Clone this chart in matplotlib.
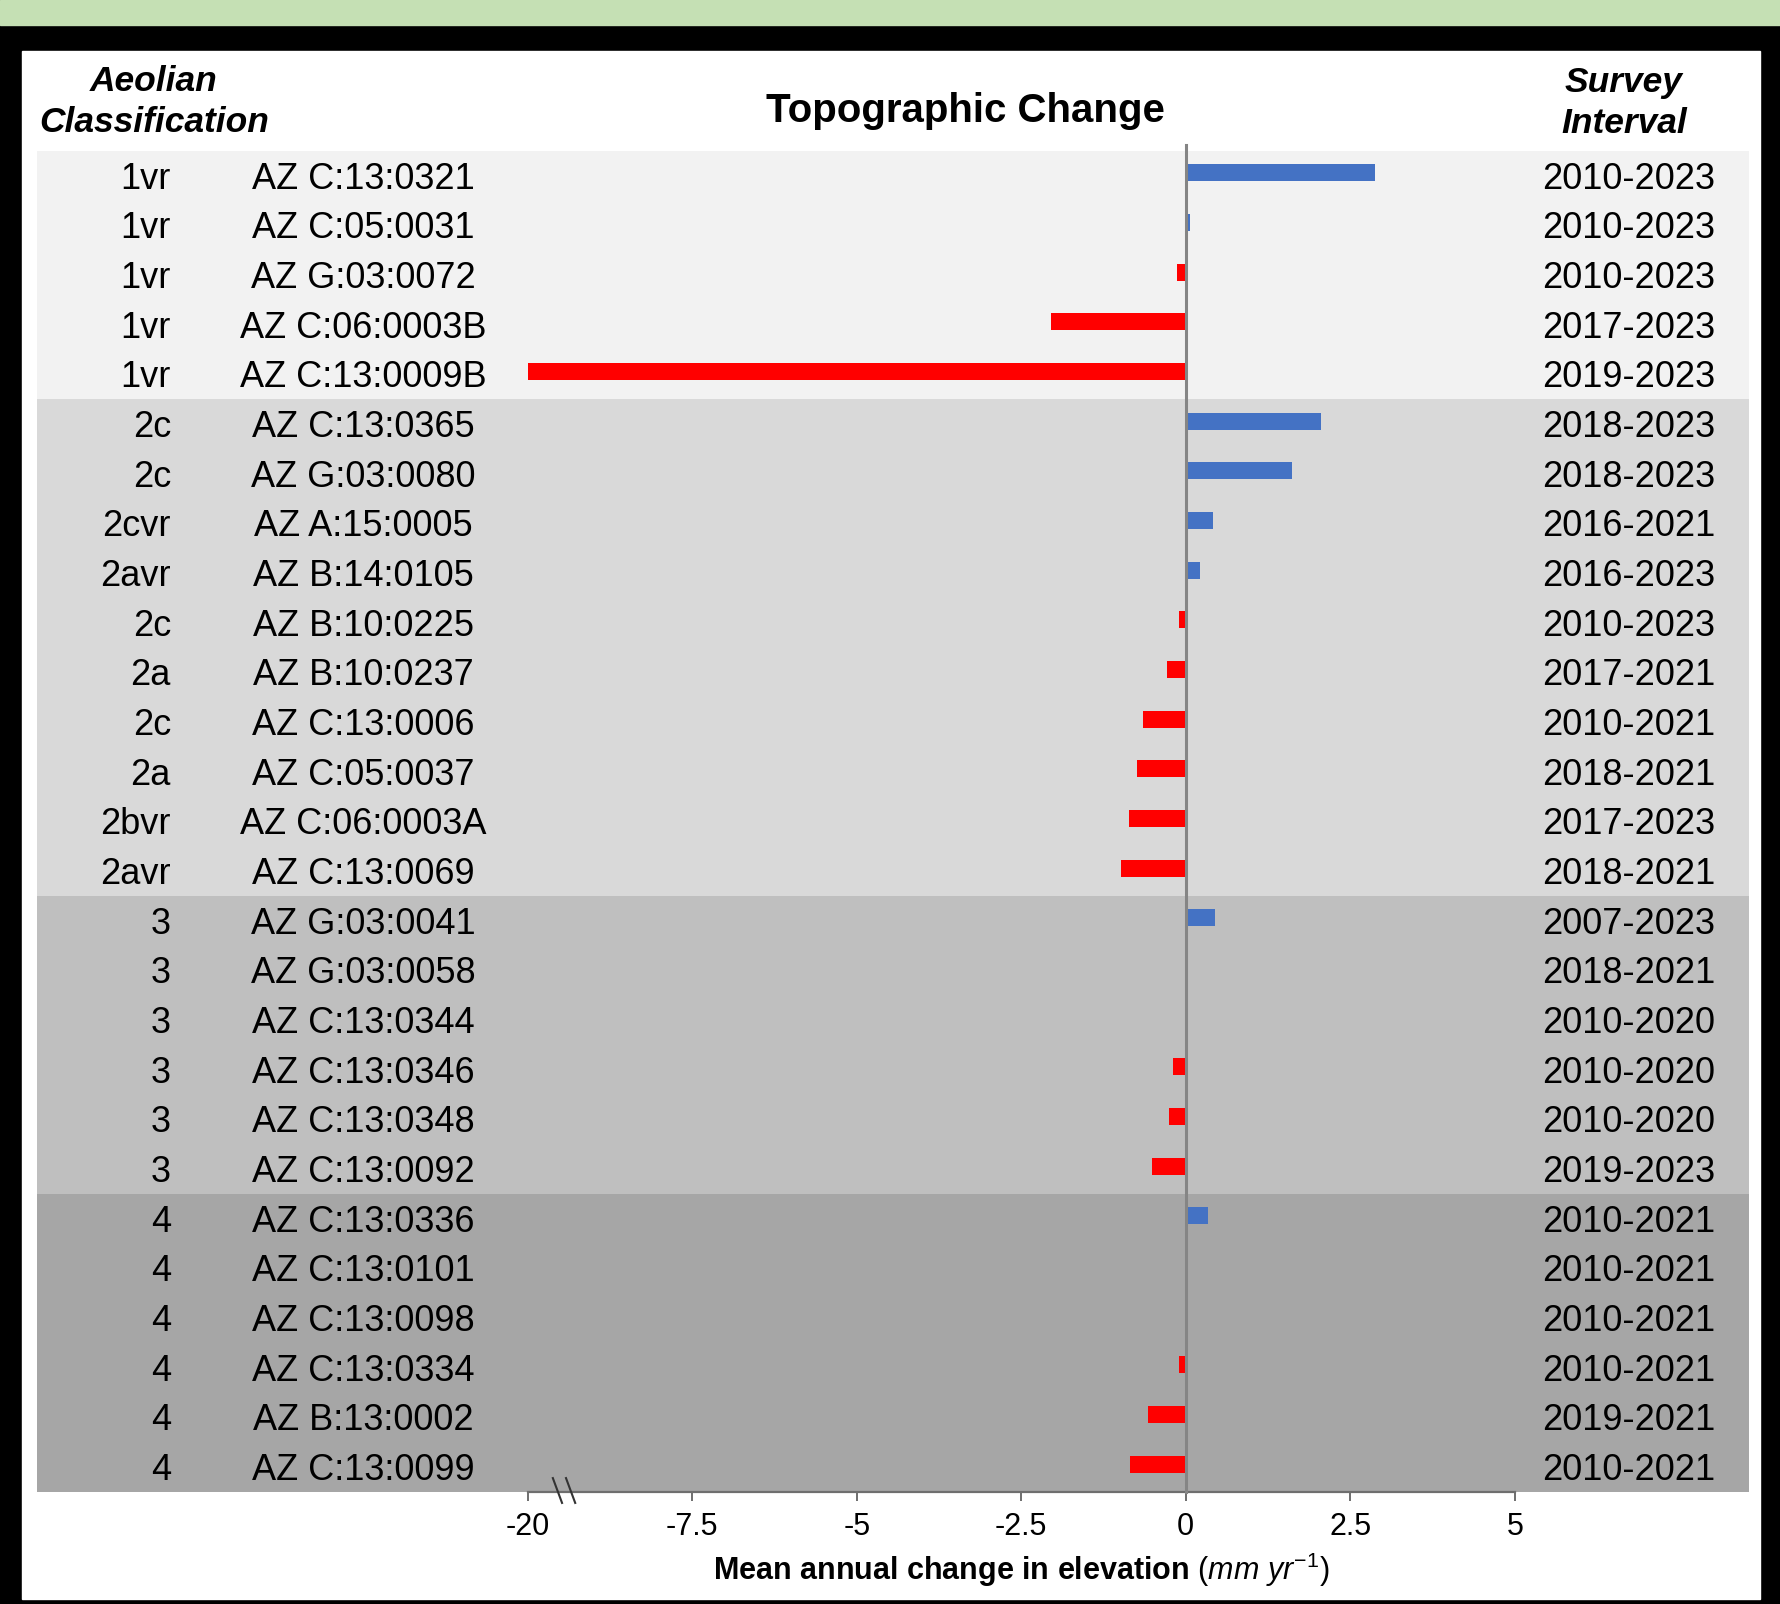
import numpy as np
import matplotlib
matplotlib.use("Agg")
import matplotlib.pyplot as plt
from matplotlib.patches import Rectangle
from matplotlib.transforms import blended_transform_factory

plt.rcParams['font.family'] = ['Liberation Sans', 'DejaVu Sans']
plt.rcParams['mathtext.fontset'] = 'custom'
plt.rcParams['mathtext.rm'] = 'Liberation Sans'
plt.rcParams['mathtext.it'] = 'Liberation Sans:italic'
plt.rcParams['mathtext.bf'] = 'Liberation Sans:bold'

# data (top row first)
classes = ["1vr", "1vr", "1vr", "1vr", "1vr",
           "2c", "2c", "2cvr", "2avr", "2c", "2a", "2c", "2a", "2bvr", "2avr",
           "3", "3", "3", "3", "3", "3",
           "4", "4", "4", "4", "4", "4"]
sites = ["AZ C:13:0321", "AZ C:05:0031", "AZ G:03:0072", "AZ C:06:0003B", "AZ C:13:0009B",
         "AZ C:13:0365", "AZ G:03:0080", "AZ A:15:0005", "AZ B:14:0105", "AZ B:10:0225",
         "AZ B:10:0237", "AZ C:13:0006", "AZ C:05:0037", "AZ C:06:0003A", "AZ C:13:0069",
         "AZ G:03:0041", "AZ G:03:0058", "AZ C:13:0344", "AZ C:13:0346", "AZ C:13:0348",
         "AZ C:13:0092",
         "AZ C:13:0336", "AZ C:13:0101", "AZ C:13:0098", "AZ C:13:0334", "AZ B:13:0002",
         "AZ C:13:0099"]
intervals = ["2010-2023", "2010-2023", "2010-2023", "2017-2023", "2019-2023",
             "2018-2023", "2018-2023", "2016-2021", "2016-2023", "2010-2023",
             "2017-2021", "2010-2021", "2018-2021", "2017-2023", "2018-2021",
             "2007-2023", "2018-2021", "2010-2020", "2010-2020", "2010-2020",
             "2019-2023",
             "2010-2021", "2010-2021", "2010-2021", "2010-2021", "2019-2021",
             "2010-2021"]
change = [2.87, 0.06, -0.13, -2.05, -20.0,
          2.05, 1.61, 0.41, 0.21, -0.11, -0.29, -0.65, -0.74, -0.87, -0.99,
          0.45, 0.0, 0.0, -0.19, -0.26, -0.52,
          0.33, 0.0, 0.0, -0.11, -0.58, -0.85]
group_sizes = [5, 10, 6, 6]
group_colors = ["#f2f2f2", "#d9d9d9", "#bfbfbf", "#a6a6a6"]
tick_values = [-20, -7.5, -5, -2.5, 0, 2.5, 5]
tick_labels = ["-20", "-7.5", "-5", "-2.5", "0", "2.5", "5"]


def squash(v):
    # broken axis: everything below -7.5 is compressed 5x
    v = np.asarray(v, dtype=float)
    return np.where(v < -7.5, -7.5 + (v + 7.5) * 0.2, v)


W, H = 1781, 1604
fig = plt.figure(figsize=(W / 100, H / 100), dpi=100, facecolor="black")

# background: green strip, black frame, white panel
fig.patches.append(Rectangle((0, 1 - 25 / H), 1, 25 / H, transform=fig.transFigure,
                             color="#c5e0b4", zorder=-5))
fig.patches.append(Rectangle((22 / W, (H - 1599) / H), (1760 - 22) / W, (1599 - 51) / H,
                             transform=fig.transFigure, color="white", zorder=-4))

ax = fig.add_axes([37 / W, (H - 1492) / H, (1749 - 37) / W, (1492 - 151) / H])
ax.set_facecolor("none")

n = len(sites)
y = np.arange(n)
ax.set_ylim(n - 0.5, -0.5)
ax.set_xlim(-17.46, 8.56)

start = 0
for size, col in zip(group_sizes, group_colors):
    ax.axhspan(start - 0.5, start + size - 0.5, color=col, lw=0, zorder=0)
    start += size

vals = np.array(change)
bar_cols = ["#4472c4" if v > 0 else "#ff0000" for v in vals]
ax.barh(y - 0.06, squash(vals), height=0.34, color=bar_cols, zorder=2)

ax.plot([0, 0], [-0.62, n - 0.5], color="#858585", lw=2.2, zorder=3, clip_on=False)

for s in ["top", "right", "left"]:
    ax.spines[s].set_visible(False)
ax.spines["bottom"].set_bounds(-10, 5)
ax.spines["bottom"].set_color("#6e6e6e")
ax.spines["bottom"].set_linewidth(1.6)
ax.set_yticks([])
ax.set_xticks(squash(tick_values), tick_labels)
ax.tick_params(axis="x", direction="out", length=6.5, width=1.4, color="#6e6e6e",
               labelsize=22, pad=8)

# axis break marks
for x0 in [-9.62, -9.42]:
    ax.plot([x0, x0 + 0.14], [26.22, 26.72], color="#333333", lw=1.5, clip_on=False, zorder=4)

# row labels
tr = blended_transform_factory(fig.transFigure, ax.transData)
for i in range(n):
    ty = i + 0.07
    ax.text(171 / W, ty, classes[i], transform=tr, ha="right", va="center", fontsize=26)
    ax.text(363.5 / W, ty, sites[i], transform=tr, ha="center", va="center", fontsize=26)
    ax.text(1629 / W, ty, intervals[i], transform=tr, ha="center", va="center", fontsize=26)

fig.text(965 / W, 1 - 111 / H, "Topographic Change", ha="center", va="center",
         fontsize=29, fontweight="bold")
fig.text(154 / W, 1 - 102 / H, "Aeolian\nClassification", ha="center", va="center",
         fontsize=25.5, fontweight="bold", fontstyle="italic", linespacing=1.3)
fig.text(1624 / W, 1 - 103 / H, "Survey\nInterval", ha="center", va="center",
         fontsize=25.5, fontweight="bold", fontstyle="italic", linespacing=1.3)
fig.text(1021 / W, 1 - 1570 / H,
         r"$\mathbf{Mean\ annual\ change\ in\ elevation}$ ($\mathit{mm\ yr}^{\mathit{-1}}$)",
         ha="center", va="center", fontsize=22)

fig.savefig("out.png", dpi=100, facecolor="black")
